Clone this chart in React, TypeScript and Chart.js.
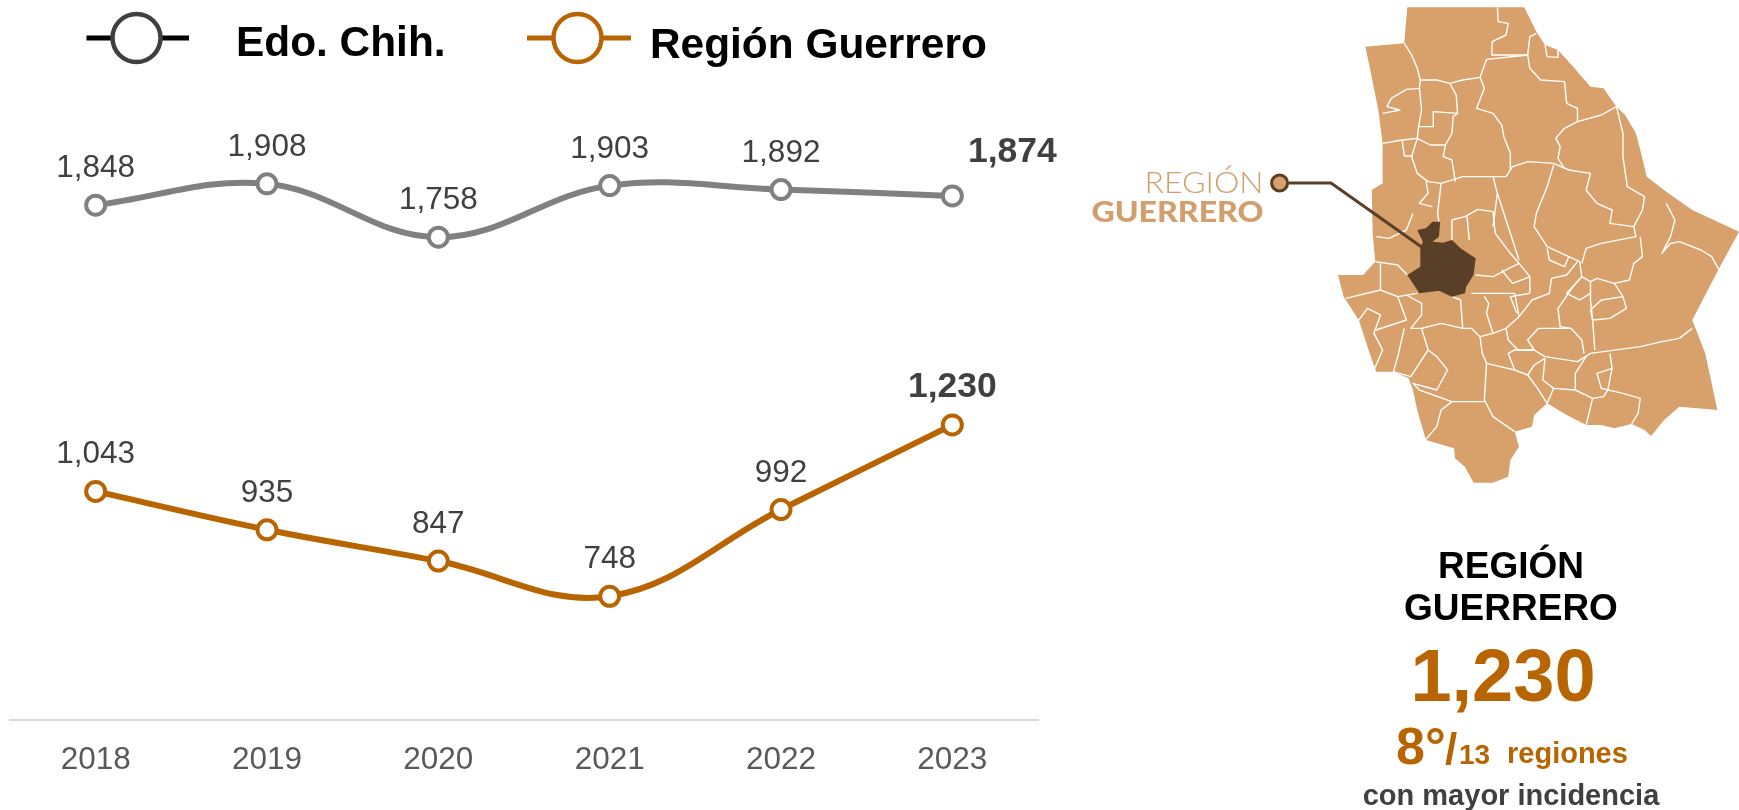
import React, { useEffect, useRef } from "react";
import { Chart, registerables } from "chart.js";

Chart.register(...registerables);

const years = ["2018", "2019", "2020", "2021", "2022", "2023"];
const seriesStateName = "Edo. Chih.";
const seriesRegionName = "Región Guerrero";
const stateValues = [1848, 1908, 1758, 1903, 1892, 1874];
const regionValues = [1043, 935, 847, 748, 992, 1230];

const ORANGE = "#B86400";
const GRAY = "#808080";
const DARK = "#404040";
const FONT = '"Liberation Sans", Arial, sans-serif';

const fmt = (v: number) => v.toLocaleString("en-US");

const mapOutline =
  "802,22 1072,22 1100,95 1120,135 1150,150 1185,200 1225,260 1255,265 1285,320 1305,345 1330,400 1340,450 1355,530 1400,575 1460,630 1568,695 1520,810 1460,960 1490,1060 1518,1230 1430,1220 1395,1260 1365,1308 1350,1290 1320,1272 1280,1285 1250,1275 1215,1275 1170,1245 1125,1210 1095,1245 1090,1280 1050,1295 1060,1340 1040,1380 1035,1430 1000,1448 955,1448 935,1400 912,1375 910,1345 845,1320 825,1230 815,1170 805,1135 770,1115 730,1115 715,1060 690,960 655,890 642,825 700,825 728,785 722,700 720,570 745,550 745,430 735,330 715,200 705,140 795,130";
const mapRegion =
  "860,665 878,665 875,710 860,725 885,728 905,720 925,745 960,775 955,825 938,860 935,880 905,890 875,872 830,880 802,825 832,800 832,745 838,725 825,690 845,685";
const mapBorders = [
  "1010,22 1012,65 1035,70 1030,105 998,125 997,165 1080,165 1085,110 1100,100",
  "795,130 812,165 825,205 832,240 870,240 900,250 930,240 970,232 985,178 1080,165 1085,205 1110,240 1165,245 1170,310 1195,325 1195,365 1250,345 1285,320",
  "832,240 830,265 800,268 765,295 755,320 785,330 745,340",
  "830,265 835,330 828,380 825,415 790,420 745,430",
  "790,420 795,468 815,468",
  "900,250 915,285 918,340 862,335 862,380 828,380",
  "918,340 908,350 905,400 890,435 855,435 825,415 812,470 825,520 850,545 880,550",
  "970,232 980,265 962,325 1000,340 1020,375 1025,410 1040,460 1040,510",
  "890,435 885,470 905,480 913,545",
  "880,550 930,530 1000,530 1030,530 1045,500 1080,485 1140,490 1175,510 1225,520",
  "1195,365 1165,385 1145,415 1155,440 1150,475 1165,505",
  "1285,320 1300,400 1300,470 1310,560 1350,590 1345,630 1325,680",
  "1225,520 1215,570 1240,610 1275,630 1270,670 1325,680 1330,710 1250,730 1215,745 1205,790",
  "1140,495 1125,560 1100,640 1095,680 1125,740 1200,785 1205,830",
  "1400,610 1420,660 1410,710 1390,760 1410,730 1430,725 1480,750 1505,770 1522,810",
  "1340,710 1345,770 1325,790 1315,840 1280,850 1300,890 1308,925 1270,955 1230,960",
  "880,550 872,640 875,665",
  "845,540 850,580 830,610 860,620",
  "815,640 800,690 760,715 730,710",
  "905,720 905,660 935,650 965,628 1000,635 1005,700 1040,760 1060,790 1085,830 1085,880",
  "1010,580 1025,640 1040,700 1060,780",
  "1000,530 1010,580 1000,680",
  "940,650 945,720",
  "960,825 1000,830 1030,810 1060,790",
  "728,785 780,795 802,825",
  "740,790 740,870 660,895",
  "740,870 780,890 825,880",
  "780,890 800,960 730,990",
  "690,960 710,925 740,945 725,1000 745,1050 725,1110",
  "800,885 835,910 835,945 810,985 840,985",
  "795,985 780,1070 770,1115 810,1130 850,1050 835,985 880,970 930,985 925,900 905,890",
  "930,985 950,985 970,1010 1000,1000 1030,985 1060,950 1050,880 1030,880 950,880",
  "1000,1000 985,940 990,910 980,890",
  "970,1010 975,1060 985,1090 980,1200 1000,1250 1050,1295",
  "850,1050 870,1070 895,1110 870,1170 815,1150 830,1170 905,1205 980,1205",
  "905,1205 880,1230 870,1280 845,1318",
  "985,1090 1050,1110 1080,1125 1100,1160 1125,1210",
  "1050,1110 1035,1060 1050,1050 1095,1050 1120,1070 1195,1085 1225,1060 1340,1040 1390,1025 1430,1015 1460,985",
  "1030,985 1035,1020 1058,1050 1095,1050 1080,1020 1105,985 1180,985 1205,1020 1210,1060",
  "1060,950 1090,900 1130,880 1135,835 1170,825 1195,785",
  "1180,985 1155,980 1150,925 1185,860 1205,830 1225,845 1225,900 1230,960 1235,1050",
  "1205,830 1170,880 1200,900 1225,880",
  "1230,960 1225,930 1250,900 1300,890",
  "1225,845 1240,835 1280,850",
  "1270,1060 1275,1105 1240,1120 1250,1165 1300,1180 1340,1195 1335,1240 1320,1272",
  "1215,1070 1190,1120 1190,1170 1230,1195 1215,1275",
  "1275,1105 1265,1170 1255,1190 1230,1195",
  "1120,1075 1115,1140 1140,1165 1125,1210",
  "1140,1165 1190,1170",
  "1080,1125 1095,1095 1120,1075",
  "1125,745 1130,780 1165,800 1175,770",
  "1020,810 1045,850 1085,830",
  "1085,880 1040,890 1055,940",
  "1120,135 1125,170 1150,172 1150,150",
];

const overlayPlugin = {
  id: "overlay",
  afterDatasetsDraw(chart: any) {
    const { ctx } = chart;
    ctx.save();
    ctx.textBaseline = "alphabetic";
    chart.data.datasets.forEach((ds: any, di: number) => {
      const pts = chart.getDatasetMeta(di).data;
      pts.forEach((p: any, i: number) => {
        const last = i === pts.length - 1;
        ctx.textAlign = "center";
        ctx.fillStyle = DARK;
        ctx.font = `${last ? "bold 35.5px" : "31.5px"} ${FONT}`;
        const dx = last && di === 0 ? 60 : 0;
        const dy = last && di === 0 ? 34 : 28;
        ctx.fillText(fmt(ds.data[i]), p.x + dx, p.y - dy);
      });
    });
    // legend
    const items = [
      { name: seriesStateName, lx: 86.5, rx: 189, cx: 136.5, line: "#000000", ring: DARK, tx: 236, ty: 56 },
      { name: seriesRegionName, lx: 527, rx: 631, cx: 577.5, line: ORANGE, ring: ORANGE, tx: 650, ty: 58 },
    ];
    items.forEach((it) => {
      ctx.strokeStyle = it.line;
      ctx.lineWidth = 5;
      ctx.beginPath();
      ctx.moveTo(it.lx, 38);
      ctx.lineTo(it.rx, 38);
      ctx.stroke();
      ctx.beginPath();
      ctx.arc(it.cx, 38, 24, 0, Math.PI * 2);
      ctx.fillStyle = "#fff";
      ctx.fill();
      ctx.lineWidth = 4.5;
      ctx.strokeStyle = it.ring;
      ctx.stroke();
      ctx.fillStyle = "#000";
      ctx.textAlign = "left";
      ctx.font = `bold 42.4px ${FONT}`;
      ctx.fillText(it.name, it.tx, it.ty);
    });
    ctx.restore();
  },
};

export default function App() {
  const ref = useRef<HTMLCanvasElement>(null);
  useEffect(() => {
    const chart = new Chart(ref.current as HTMLCanvasElement, {
      type: "line",
      data: {
        labels: years,
        datasets: [
          {
            label: seriesStateName,
            data: stateValues,
            borderColor: GRAY,
            pointBorderColor: GRAY,
            pointBackgroundColor: "#fff",
            borderWidth: 6,
            pointRadius: 9.5,
            pointBorderWidth: 4,
            tension: 0.38,
          },
          {
            label: seriesRegionName,
            data: regionValues,
            borderColor: ORANGE,
            pointBorderColor: ORANGE,
            pointBackgroundColor: "#fff",
            borderWidth: 6,
            pointRadius: 9.5,
            pointBorderWidth: 4,
            tension: 0.38,
          },
        ],
      },
      options: {
        responsive: false,
        animation: false,
        layout: { autoPadding: false, padding: { left: 10, right: 701, top: 80, bottom: 0 } },
        plugins: { legend: { display: false }, tooltip: { enabled: false } },
        scales: {
          x: {
            offset: true,
            grid: { display: false, drawTicks: false, offset: true },
            border: { display: true, color: "#D9D9D9", width: 2 },
            ticks: { color: "#595959", font: { family: FONT, size: 31.5 }, padding: 21, maxRotation: 0 },
            afterFit(scale: any) {
              scale.height = 90;
              scale.paddingLeft = 0;
              scale.paddingRight = 0;
            },
          },
          y: { display: false, min: 400, max: 2200 },
        },
      },
      plugins: [overlayPlugin],
    } as any);
    return () => chart.destroy();
  }, []);

  return (
    <div style={{ position: "absolute", left: 0, top: 0, width: 1739, height: 810, overflow: "hidden", background: "#fff" }}>
      <canvas ref={ref} width={1739} height={810} style={{ position: "absolute", left: 0, top: 0, display: "block" }} />
      <svg width={1739} height={810} viewBox="0 0 1739 810" style={{ position: "absolute", left: 0, top: 0, fontFamily: FONT }}>
        <g transform="translate(1060 0) scale(0.43304 0.33333)">
          <polygon points={mapOutline} fill="#D8A06A" />
          {mapBorders.map((b, i) => (
            <polyline key={i} points={b} fill="none" stroke="#fff" strokeWidth={1.4} vectorEffect="non-scaling-stroke" strokeLinejoin="round" />
          ))}
          <polygon points={mapRegion} fill="#5A3F28" />
        </g>
        <polyline points="1289,183 1331,183 1423,248" fill="none" stroke="#5A3F28" strokeWidth={3} />
        <circle cx={1279.6} cy={183} r={8} fill="#D8A06A" stroke="#5A3F28" strokeWidth={3} />
        <text x={1263.5} y={193} textAnchor="end" fontFamily="Lato, sans-serif" fontWeight={300} fontSize={29} fill="#D19E6C" textLength={119} lengthAdjust="spacingAndGlyphs">REGIÓN</text>
        <text x={1263.5} y={221.5} textAnchor="end" fontFamily="Lato, sans-serif" fontWeight={900} fontSize={28} fill="#D19E6C" textLength={172} lengthAdjust="spacingAndGlyphs">GUERRERO</text>
        <text x={1511} y={578} textAnchor="middle" fontWeight="bold" fontSize={37} fill="#000">REGIÓN</text>
        <text x={1511} y={620} textAnchor="middle" fontWeight="bold" fontSize={37} fill="#000">GUERRERO</text>
        <text x={1503} y={700.5} textAnchor="middle" fontWeight="bold" fontSize={74} fill={ORANGE}>1,230</text>
        <text x={1396} y={764} fontWeight="bold" fontSize={52} fill={ORANGE}>8°</text>
        <text x={1445} y={764} fontWeight="bold" fontSize={44} fill={ORANGE}>/</text>
        <text x={1459} y={764} fontWeight="bold" fontSize={28} fill={ORANGE}>13</text>
        <text x={1507} y={763} fontWeight="bold" fontSize={29} fill={ORANGE}>regiones</text>
        <text x={1511} y={805} textAnchor="middle" fontWeight="bold" fontSize={29} fill={DARK}>con mayor incidencia</text>
      </svg>
    </div>
  );
}
